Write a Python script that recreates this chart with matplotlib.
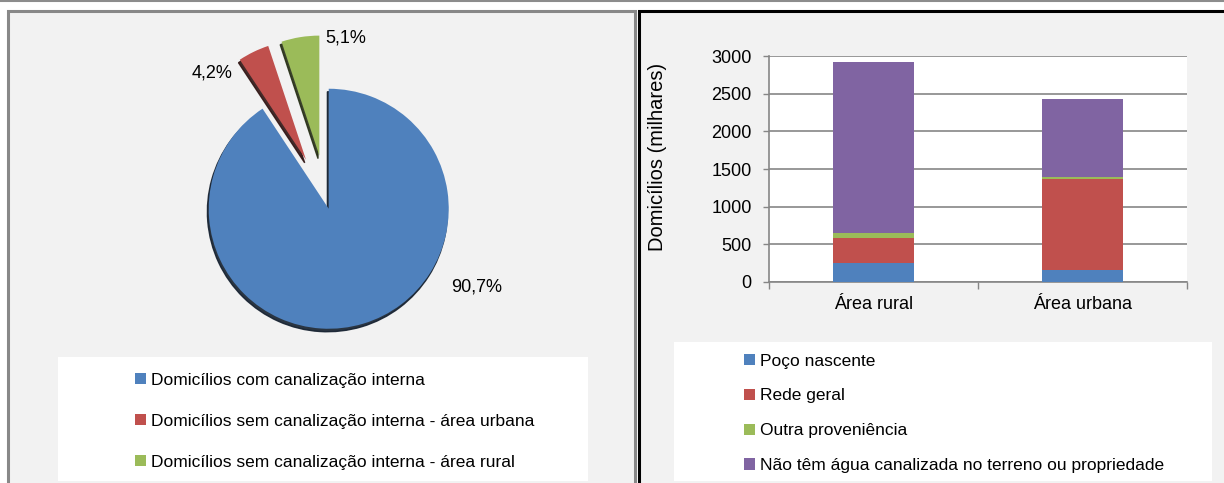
import numpy as np
import matplotlib
matplotlib.use("Agg")
import matplotlib.pyplot as plt
from matplotlib.patches import Rectangle
from matplotlib.lines import Line2D

plt.rcParams['font.family'] = ['Liberation Sans', 'DejaVu Sans']
plt.rcParams['font.size'] = 13

W, H = 1224, 483

# pie data (share of households, %)
pie_labels = ["Domicílios com canalização interna",
              "Domicílios sem canalização interna - área urbana",
              "Domicílios sem canalização interna - área rural"]
pie_values = [90.7, 4.2, 5.1]
pie_colors = ["#4f81bd", "#c0504d", "#9bbb59"]
pie_explode = [0.05, 0.4, 0.4]

# stacked bars (thousands of households)
areas = ["Área rural", "Área urbana"]
bar_series = ["Poço nascente", "Rede geral", "Outra proveniência",
              "Não têm água canalizada no terreno ou propriedade"]
poco = [254, 160]
rede = [329, 1202]
outra = [67, 27]
sem_agua = [2269, 1041]
bar_colors = ["#4f81bd", "#c0504d", "#9bbb59", "#8064a2"]
y_ticks = [0, 500, 1000, 1500, 2000, 2500, 3000]


def fx(px):
    return px / W


def fy(py):
    return 1 - py / H


def box(x0, y0, x1, y1):
    # pixel box (top-left origin) -> figure rect
    return [fx(x0), fy(y1), (x1 - x0) / W, (y1 - y0) / H]


fig = plt.figure(figsize=(W / 100, H / 100), dpi=100, facecolor="white")

# panel frames / backgrounds
fig.add_artist(Line2D([0, 1], [fy(1), fy(1)], color="#8c8c8c", lw=1.5,
                      transform=fig.transFigure, zorder=-20))
fig.add_artist(Rectangle((fx(8), fy(500)), fx(635) - fx(8), fy(11) - fy(500),
                         facecolor="#f2f2f2", edgecolor="#888888", lw=2.2,
                         transform=fig.transFigure, zorder=-20))
fig.add_artist(Rectangle((fx(638.5), fy(500)), fx(1240) - fx(638.5), fy(11) - fy(500),
                         facecolor="#f2f2f2", edgecolor="black", lw=2.2,
                         transform=fig.transFigure, zorder=-20))
# legend boxes
fig.add_artist(Rectangle((fx(58), fy(481)), fx(588) - fx(58), fy(357) - fy(481),
                         facecolor="white", edgecolor="none",
                         transform=fig.transFigure, zorder=-10))
fig.add_artist(Rectangle((fx(674), fy(481)), fx(1212) - fx(674), fy(342) - fy(481),
                         facecolor="white", edgecolor="none",
                         transform=fig.transFigure, zorder=-10))

# ---- pie ----
R = 120
half = 190
ax_pie = fig.add_axes(box(327 - half, 203 - half, 327 + half, 203 + half))
wedges, _ = ax_pie.pie(pie_values, colors=pie_colors, startangle=90,
                       counterclock=False, explode=pie_explode, radius=1,
                       wedgeprops=dict(edgecolor="none"),
                       shadow=dict(ox=-0.008, oy=-0.018, shade=0.75, alpha=0.9))
lim = half / R
ax_pie.set_xlim(-lim, lim)
ax_pie.set_ylim(-lim, lim)
ax_pie.set_aspect("equal")
ax_pie.axis("off")

label_pos = [(1.25, -0.70), (-0.96, 1.08), (0.16, 1.375)]
for v, (lx, ly) in zip(pie_values, label_pos):
    ax_pie.text(lx, ly, f"{v:.1f}%".replace(".", ","), ha="center", va="center",
                fontsize=13)

fig.legend(wedges, pie_labels, loc="upper left",
           bbox_to_anchor=(fx(126), fy(364)), frameon=False, borderpad=0,
           handlelength=0.68, handleheight=0.62, handletextpad=0.25,
           labelspacing=1.5, fontsize=12.5)

# ---- stacked bars ----
ax = fig.add_axes(box(769, 56, 1187, 282))
ax.set_facecolor("white")
x = np.arange(len(areas))
bottom = np.zeros(len(areas))
bars = []
for vals, col in zip([poco, rede, outra, sem_agua], bar_colors):
    b = ax.bar(x, vals, width=0.39, bottom=bottom, color=col, zorder=3)
    bars.append(b)
    bottom += np.array(vals)

ax.set_xlim(-0.5, 1.5)
ax.set_ylim(0, 3000)
ax.set_yticks(y_ticks)
ax.yaxis.grid(True, color="#868686", lw=1.2, zorder=0)
ax.set_xticks([-0.5, 0.5, 1.5])
ax.set_xticklabels([])
ax.set_xticks(x, minor=True)
ax.set_xticklabels(areas, minor=True)
ax.tick_params(axis="x", which="major", length=5, color="#868686", width=1)
ax.tick_params(axis="x", which="minor", length=0, pad=10, labelsize=13)
ax.tick_params(axis="y", length=4.5, color="#868686", width=1, pad=8, labelsize=13)
for s in ["top", "right"]:
    ax.spines[s].set_visible(False)
for s in ["left", "bottom"]:
    ax.spines[s].set_color("#868686")
    ax.spines[s].set_linewidth(1.2)
ax.set_ylabel("Domicílios (milhares)", fontsize=14.5)
ax.yaxis.set_label_coords(-0.245, 0.555)

fig.legend(bars, bar_series, loc="upper left",
           bbox_to_anchor=(fx(735), fy(345)), frameon=False, borderpad=0,
           handlelength=0.68, handleheight=0.62, handletextpad=0.25,
           labelspacing=1.14, fontsize=12.5)

fig.savefig("out.png", dpi=100, facecolor="white")
